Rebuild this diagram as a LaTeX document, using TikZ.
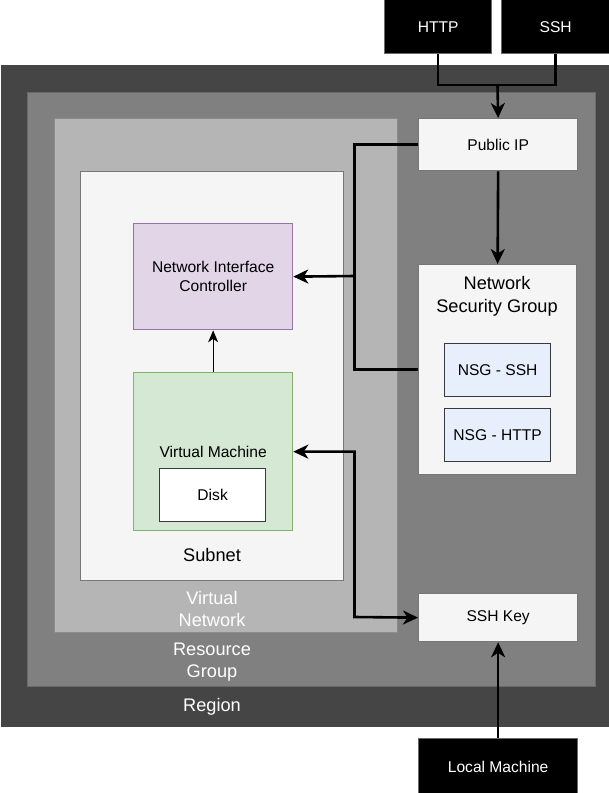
\documentclass[tikz,border=0pt]{standalone}
\usepackage{fontspec}
\setmainfont{Liberation Sans}
\usetikzlibrary{arrows.meta}

\definecolor{regionfill}{HTML}{454545}
\definecolor{rgfill}{HTML}{808080}
\definecolor{rgline}{HTML}{6A6A6A}
\definecolor{vnetfill}{HTML}{B5B5B5}
\definecolor{vnetline}{HTML}{8C8C8C}
\definecolor{panelfill}{HTML}{F5F5F5}
\definecolor{panelline}{HTML}{777777}
\definecolor{nicfill}{HTML}{E1D5E7}
\definecolor{nicline}{HTML}{9673A6}
\definecolor{vmfill}{HTML}{D5E8D4}
\definecolor{vmline}{HTML}{82B366}
\definecolor{rulefill}{HTML}{E8EFFC}
\definecolor{ruleline}{HTML}{36393D}

\newcommand\normsize{\fontsize{15.6}{18.7}\selectfont}
\newcommand\bigsize{\fontsize{18.2}{22.7}\selectfont}

\begin{document}
\begin{tikzpicture}[x=1pt,y=-1pt,
  box/.style={draw=panelline,line width=1.3pt,rectangle,anchor=north west,
              inner sep=0pt,align=center,font=\normsize},
  panel/.style={box,fill=panelfill},
  extbox/.style={box,fill=black,draw=rgline,text=white},
  rulebox/.style={box,fill=rulefill,draw=ruleline,
                  minimum width=106pt,minimum height=53pt},
  caption/.style={align=center,font=\bigsize,inner sep=0pt},
  wire/.style={line width=2.6pt},
  >={Stealth[length=15pt,width=14pt,inset=4.5pt]}]

\useasboundingbox (0,0) rectangle (609,793);

% containers
\node[box,fill=regionfill,draw=regionfill,minimum width=608pt,minimum height=661pt]
  (region) at (1,65) {};
\node[box,fill=rgfill,draw=rgline,minimum width=568pt,minimum height=594pt]
  (rg) at (27,92) {};
\node[box,fill=vnetfill,draw=vnetline,minimum width=343pt,minimum height=514pt]
  (vnet) at (54,118) {};
\node[panel,minimum width=263pt,minimum height=409pt] (subnet) at (80,171) {};

\node[caption,text=white] (regionlabel) at (212,707) {Region};
\node[caption,text=white] (rglabel)     at (212,662) {Resource\\Group};
\node[caption,text=white] (vnetlabel)   at (212,609) {Virtual\\Network};
\node[caption]            (subnetlabel) at (212,555) {Subnet};

% resources
\node[box,fill=nicfill,draw=nicline,minimum width=159pt,minimum height=106pt]
  (nic) at (133,223) {Network Interface\\Controller};
\node[box,fill=vmfill,draw=vmline,minimum width=159pt,minimum height=158pt]
  (vm) at (133,372) {Virtual Machine};
\node[box,fill=white,draw=ruleline,minimum width=106pt,minimum height=53pt]
  (disk) at (159,468) {Disk};

\node[panel,minimum width=159pt,minimum height=52pt] (pip) at (418,118) {Public IP};
\node[panel,minimum width=158pt,minimum height=210pt] (nsg) at (418,264) {};
\node[caption] (nsglabel) at (497,296) {Network\\Security Group};
\node[rulebox] (nsgssh)  at (444,343) {NSG - SSH};
\node[rulebox] (nsghttp) at (444,408) {NSG - HTTP};
\node[panel,minimum width=159pt,minimum height=48pt] (key) at (418,593) {SSH Key};

\node[extbox,minimum width=107pt,minimum height=54pt] (http) at (384,-1) {HTTP};
\node[extbox,minimum width=108pt,minimum height=54pt] (ssh)  at (501,-1) {SSH};
\node[extbox,minimum width=159pt,minimum height=56pt] (local) at (418,738) {Local Machine};

% connectors
\coordinate (join)   at (497.5,85);
\coordinate (tapnic) at (354.5,276);
\coordinate (tapkey) at (354.5,617);

\draw[wire] (http.south) |- (join) -| (ssh.south);
\draw[wire,->] (join) -- (pip.north);
\draw[wire] (pip.west) -| (tapnic) |- (nsg.west);
\draw[wire,->] (tapnic) -- (nic.east);
\draw[wire,->] (pip.south) -- (nsg.north);
\draw[wire,<->] (vm.east) -| (tapkey) -- (key.west);
\draw[wire,->] (local.north) -- (key.south);
\draw[line width=1.3pt,-{Stealth[length=12pt,width=10pt,inset=3.5pt]}]
  (vm.north) -- (nic.south);

\end{tikzpicture}
\end{document}
